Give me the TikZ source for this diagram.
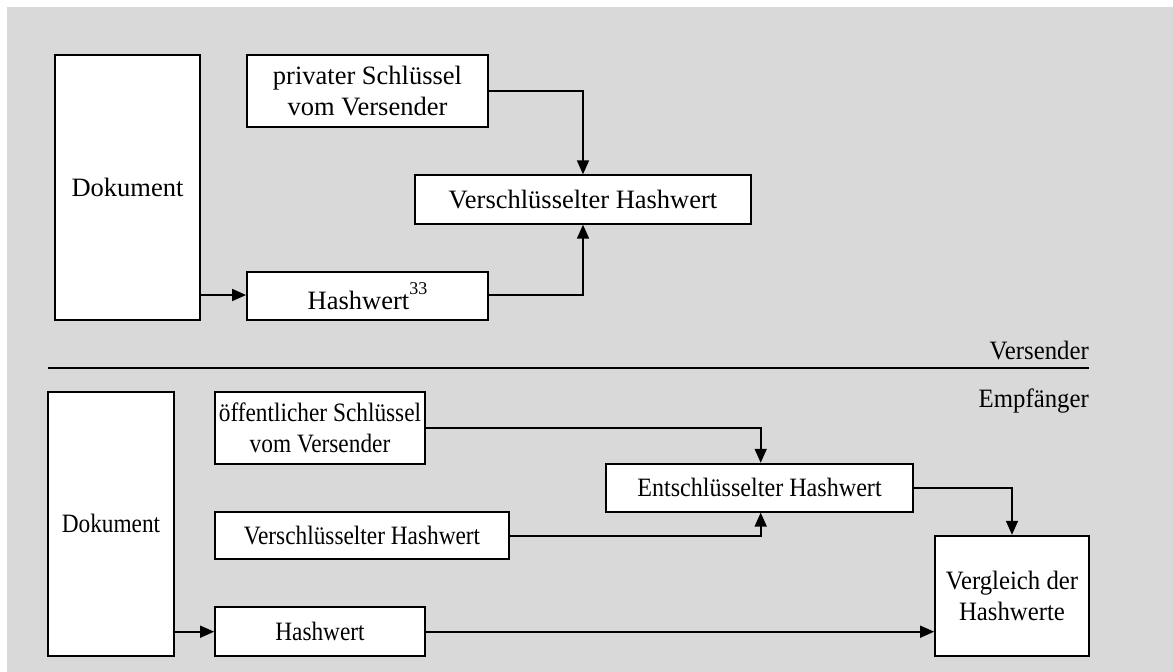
\documentclass[tikz,border=0pt]{standalone}
\usepackage{fontspec}
\setmainfont{Liberation Serif}
\newfontfamily\condA[FakeStretch=0.88]{Liberation Serif}
\newfontfamily\condB[FakeStretch=0.935]{Liberation Serif}
\newfontfamily\condC[FakeStretch=0.91]{Liberation Serif}
\usetikzlibrary{arrows.meta}
\definecolor{bg}{HTML}{D9D9D9}
\begin{document}
\begin{tikzpicture}[x=1pt,y=-1pt,
  box/.style={draw, fill=white, line width=1.8pt, inner sep=0pt, align=center, font=\fontsize{26.5}{31.5}\selectfont},
  boxb/.style={box, font=\condA\fontsize{26.5}{31}\selectfont},
  boxc/.style={box, font=\condB\fontsize{26.5}{31}\selectfont},
  boxd/.style={box, font=\condC\fontsize{26.5}{31}\selectfont},
  lbl/.style={inner sep=0pt, font=\condB\fontsize{26.5}{31}\selectfont},
  conn/.style={line width=1.6pt, -{Triangle[length=14pt,width=12pt]}},
  plain/.style={line width=1.6pt}]
\useasboundingbox (0,0) rectangle (1173,672);
\fill[bg] (7,7) rectangle (1173,672);
% top part
\node[box, minimum width=145pt, minimum height=265pt] (dok1) at (127.5,187.5) {Dokument};
\node[box, minimum width=241pt, minimum height=72pt] (priv) at (367.5,91) {privater Schlüssel\\vom Versender};
\node[box, minimum width=336pt, minimum height=48.5pt] (vh1) at (583,199.5) {Verschlüsselter Hashwert};
\node[box, minimum width=241pt, minimum height=48pt] (hw1) at (367.5,296) {Hashwert\raisebox{0.55em}{\fontsize{18}{18}\selectfont 33}};
\coordinate (p1) at (583,91);
\coordinate (p2) at (583,295);
\draw[conn] (dok1.east |- p2) -- (hw1.west |- p2);
\draw[conn] (priv.east |- p1) -- (p1) -- (vh1.north);
\draw[conn] (hw1.east |- p2) -- (p2) -- (vh1.south);
% separator
\coordinate (sl) at (48,368);
\coordinate (sr) at (1089,368);
\draw[plain] (sl) -- (sr);
\node[lbl, anchor=base east] (vers) at (1089,359) {Versender};
\node[lbl, anchor=base east] (empf) at (1089,407) {Empfänger};
% bottom part
\node[boxb, minimum width=126pt, minimum height=264pt] (dok2) at (111,523.7) {Dokument};
\node[boxb, minimum width=210pt, minimum height=72pt] (oeff) at (320,427.7) {öffentlicher Schlüssel\\vom Versender};
\node[boxb, minimum width=294pt, minimum height=47pt] (vh2) at (362,535.5) {Verschlüsselter Hashwert};
\node[boxb, minimum width=210pt, minimum height=48.7pt] (hw2) at (320,631.4) {Hashwert};
\node[boxd, minimum width=307pt, minimum height=48pt] (eh) at (759.5,487.7) {Entschlüsselter Hashwert};
\node[boxc, minimum width=154pt, minimum height=120pt] (vgl) at (1012,595.7) {Vergleich der\\Hashwerte};
\coordinate (q1) at (760.7,427.7);
\coordinate (q2) at (760.7,536);
\coordinate (q3) at (1012,487.7);
\coordinate (q4) at (0,631.7);
\draw[conn] (dok2.east |- q4) -- (hw2.west |- q4);
\draw[conn] (oeff.east |- q1) -- (q1) -- (eh.north -| q1);
\draw[conn] (vh2.east |- q2) -- (q2) -- (eh.south -| q2);
\draw[conn] (eh.east |- q3) -- (q3) -- (vgl.north);
\draw[conn] (hw2.east |- q4) -- (vgl.west |- q4);
\end{tikzpicture}
\end{document}
